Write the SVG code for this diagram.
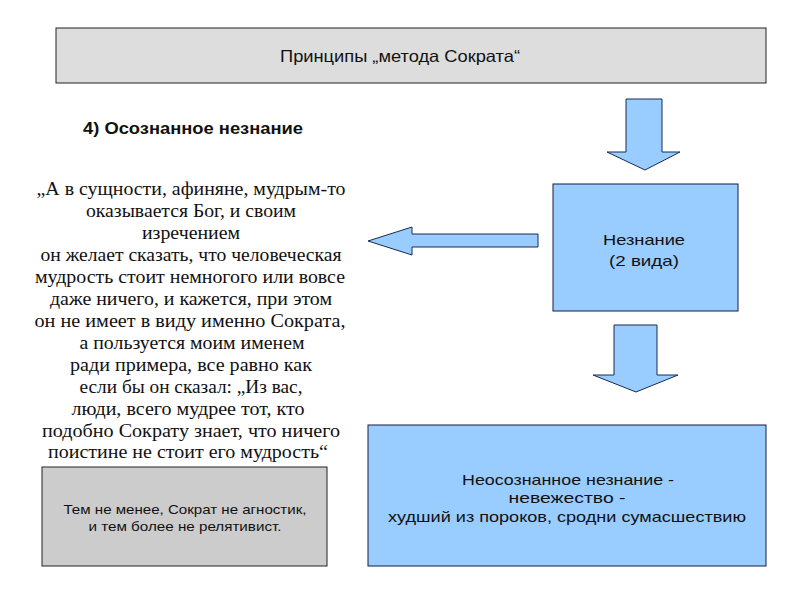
<svg xmlns="http://www.w3.org/2000/svg" width="794" height="595" viewBox="0 0 794 595">
<style>
.sans{font-family:"Liberation Sans",Arial,sans-serif;fill:#111}
.serif{font-family:"Liberation Serif","Times New Roman",serif;font-size:18px;fill:#111;text-anchor:middle}
.mid{text-anchor:middle}
.blue{fill:#99ccff;stroke:#1a1a40;stroke-width:1}
.arrow{fill:#99ccff;stroke:#1a2a50;stroke-width:1}
</style>
<rect width="794" height="595" fill="#ffffff"/>
<g id="title">
<rect x="56" y="28" width="710" height="55" fill="#dddddd" stroke="#222" stroke-width="1"/>
<text class="sans mid" x="400" y="62" font-size="16.5" textLength="240" lengthAdjust="spacingAndGlyphs">Принципы „метода Сократа“</text>
</g>
<g id="heading">
<text class="sans" x="83" y="134" font-size="16" font-weight="bold" textLength="220" lengthAdjust="spacingAndGlyphs">4) Осознанное незнание</text>
</g>
<g id="quote">
<text class="serif" x="191" y="195" textLength="309" lengthAdjust="spacingAndGlyphs">„А в сущности, афиняне, мудрым-то</text>
<text class="serif" x="191" y="217" textLength="210" lengthAdjust="spacingAndGlyphs">оказывается Бог, и своим</text>
<text class="serif" x="191" y="239" textLength="98" lengthAdjust="spacingAndGlyphs">изречением</text>
<text class="serif" x="191" y="261" textLength="301" lengthAdjust="spacingAndGlyphs">он желает сказать, что человеческая</text>
<text class="serif" x="190" y="283" textLength="310" lengthAdjust="spacingAndGlyphs">мудрость стоит немногого или вовсе</text>
<text class="serif" x="191" y="305" textLength="282" lengthAdjust="spacingAndGlyphs">даже ничего, и кажется, при этом</text>
<text class="serif" x="190" y="327" textLength="311" lengthAdjust="spacingAndGlyphs">он не имеет в виду именно Сократа,</text>
<text class="serif" x="192" y="349" textLength="225" lengthAdjust="spacingAndGlyphs">а пользуется моим именем</text>
<text class="serif" x="191" y="371" textLength="242" lengthAdjust="spacingAndGlyphs">ради примера, все равно как</text>
<text class="serif" x="191" y="393" textLength="223" lengthAdjust="spacingAndGlyphs">если бы он сказал: „Из вас,</text>
<text class="serif" x="188" y="415" textLength="233" lengthAdjust="spacingAndGlyphs">люди, всего мудрее тот, кто</text>
<text class="serif" x="191" y="437" textLength="298" lengthAdjust="spacingAndGlyphs">подобно Сократу знает, что ничего</text>
<text class="serif" x="188" y="458" textLength="280" lengthAdjust="spacingAndGlyphs">поистине не стоит его мудрость“</text>
</g>
<g id="note">
<rect x="42" y="467" width="285" height="99" fill="#cccccc" stroke="#222" stroke-width="1"/>
<text class="sans mid" x="185" y="514" font-size="13" textLength="243" lengthAdjust="spacingAndGlyphs">Тем не менее, Сократ не агностик,</text>
<text class="sans mid" x="185" y="531" font-size="13" textLength="193" lengthAdjust="spacingAndGlyphs">и тем более не релятивист.</text>
</g>
<g id="ignorance">
<rect class="blue" x="553" y="184" width="185" height="127"/>
<text class="sans mid" x="644" y="245" font-size="15" textLength="82" lengthAdjust="spacingAndGlyphs">Незнание</text>
<text class="sans mid" x="644" y="266" font-size="15" textLength="70" lengthAdjust="spacingAndGlyphs">(2 вида)</text>
</g>
<g id="unconscious">
<rect class="blue" x="368" y="425" width="398" height="141"/>
<text class="sans mid" x="568" y="485" font-size="15" textLength="212" lengthAdjust="spacingAndGlyphs">Неосознанное незнание -</text>
<text class="sans mid" x="567" y="503" font-size="15" textLength="117" lengthAdjust="spacingAndGlyphs">невежество -</text>
<text class="sans mid" x="567" y="522" font-size="15" textLength="358" lengthAdjust="spacingAndGlyphs">худший из пороков, сродни сумасшествию</text>
</g>
<g id="connectors">
<polygon class="arrow" points="626,99 662,99 662,152 680,152 645,170 607,152 626,152"/>
<polygon class="arrow" points="538,234 412,234 412,227 368,241 412,255 412,247 538,247"/>
<polygon class="arrow" points="614,325 657,325 657,375 678,375 636,392 593,375 614,375"/>
</g>
</svg>
